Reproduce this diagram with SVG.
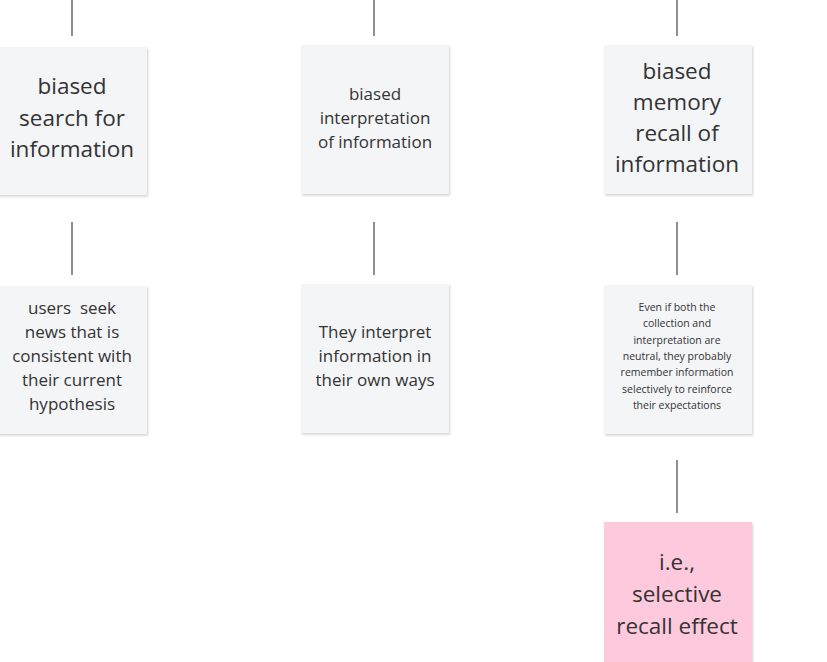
<svg xmlns="http://www.w3.org/2000/svg" width="827" height="662" viewBox="0 0 827 662">
<defs>
<filter id="sh" x="-10%" y="-10%" width="120%" height="120%">
<feDropShadow dx="1" dy="1.5" stdDeviation="1" flood-color="#000" flood-opacity="0.18"/>
</filter>
<style>
.card{fill:#f4f5f7;filter:url(#sh)}
.pink{fill:#ffc9dd;filter:url(#sh)}
text{font-family:"Open Sans","Noto Sans",sans-serif;fill:#333;text-anchor:middle;dominant-baseline:central}
.l{font-size:22.5px}
.m{font-size:17px}
.s{font-size:10.5px}
.c line{stroke:#444;stroke-width:1.2}
</style>
</defs>
<rect width="827" height="662" fill="#fff"/>
<g class="c" id="connectors">
<line x1="72" y1="0" x2="72" y2="36"/>
<line x1="374" y1="0" x2="374" y2="36"/>
<line x1="677" y1="0" x2="677" y2="36"/>
<line x1="72" y1="222" x2="72" y2="275"/>
<line x1="374" y1="222" x2="374" y2="275"/>
<line x1="677" y1="222" x2="677" y2="275"/>
<line x1="677" y1="460" x2="677" y2="513"/>
</g>
<g id="n1">
<rect class="card" x="-2" y="47" width="149" height="148"/>
<text class="l"><tspan x="72" y="85">biased</tspan><tspan x="72" y="117">search for</tspan><tspan x="72" y="148">information</tspan></text>
</g>
<g id="n2">
<rect class="card" x="301" y="45" width="148" height="149"/>
<text class="m"><tspan x="375" y="93">biased</tspan><tspan x="375" y="117">interpretation</tspan><tspan x="375" y="141">of information</tspan></text>
</g>
<g id="n3">
<rect class="card" x="604" y="45" width="148" height="149"/>
<text class="l"><tspan x="677" y="70">biased</tspan><tspan x="677" y="101">memory</tspan><tspan x="677" y="132">recall of</tspan><tspan x="677" y="163">information</tspan></text>
</g>
<g id="n4">
<rect class="card" x="-2" y="286" width="149" height="148"/>
<text class="m"><tspan x="72" y="307">users&#160; seek</tspan><tspan x="72" y="331">news that is</tspan><tspan x="72" y="355">consistent with</tspan><tspan x="72" y="379">their current</tspan><tspan x="72" y="403">hypothesis</tspan></text>
</g>
<g id="n5">
<rect class="card" x="301" y="284" width="148" height="149"/>
<text class="m"><tspan x="375" y="331">They interpret</tspan><tspan x="375" y="355">information in</tspan><tspan x="375" y="379">their own ways</tspan></text>
</g>
<g id="n6">
<rect class="card" x="604" y="285" width="148" height="149"/>
<text class="s"><tspan x="677" y="307">Even if both the</tspan><tspan x="677" y="323.3">collection and</tspan><tspan x="677" y="339.6">interpretation are</tspan><tspan x="677" y="355.9">neutral, they probably</tspan><tspan x="677" y="372.2">remember information</tspan><tspan x="677" y="388.5">selectively to reinforce</tspan><tspan x="677" y="404.8">their expectations</tspan></text>
</g>
<g id="n7">
<rect class="pink" x="604" y="522" width="148" height="150"/>
<text class="l"><tspan x="677" y="561">i.e.,</tspan><tspan x="677" y="593">selective</tspan><tspan x="677" y="625">recall effect</tspan></text>
</g>
</svg>
